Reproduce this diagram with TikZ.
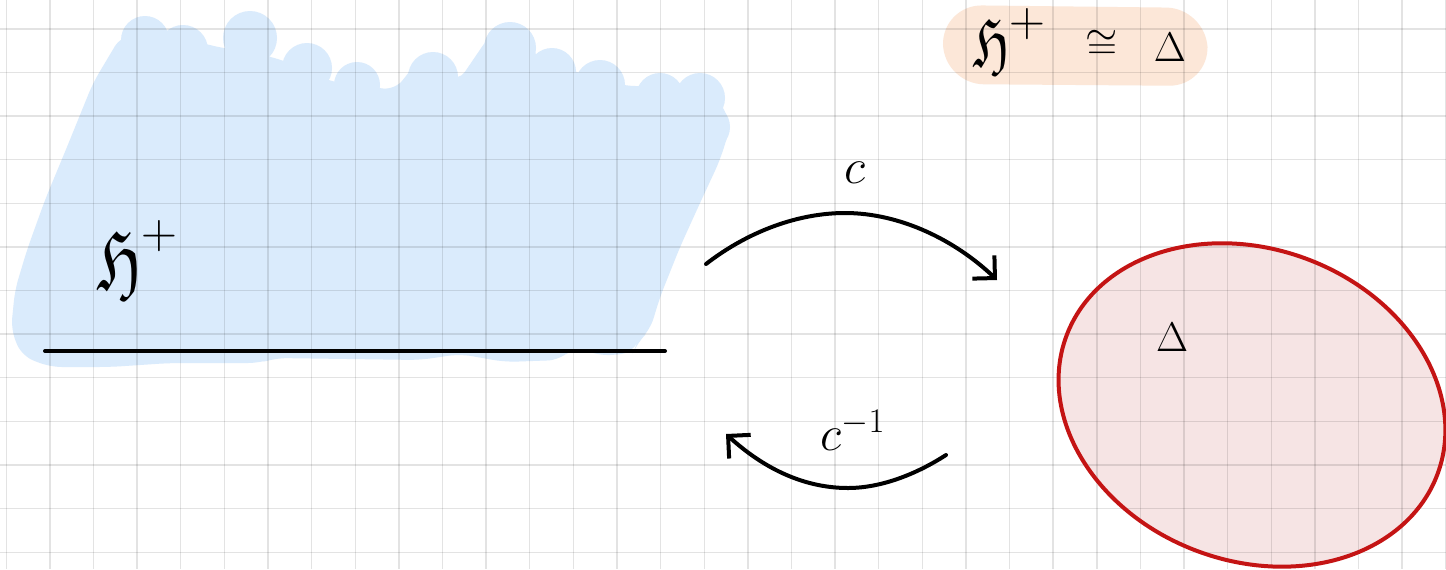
\documentclass[tikz,border=0pt]{standalone}
\usepackage{amssymb}
\usepackage{graphicx}
\usetikzlibrary{arrows.meta}
\definecolor{bluehl}{RGB}{218,235,252}
\definecolor{orangehl}{RGB}{252,231,216}
\definecolor{diskfill}{RGB}{246,228,228}
\definecolor{diskline}{RGB}{196,20,20}
\tikzset{
  gridline/.style={black,opacity=0.11,line width=0.7pt},
  ink/.style={black,line width=2pt,line cap=round,line join=round},
  inkarrow/.style={ink,-{Straight Barb[length=8pt,width=16pt,line width=2pt]}},
  lbl/.style={inner sep=0pt,outer sep=0pt},
}
\begin{document}
\begin{tikzpicture}[x=0.5pt,y=-0.5pt]
\useasboundingbox (0,0) rectangle (1446,569);
\clip (0,0) rectangle (1446,569);
\fill[white] (0,0) rectangle (1446,569);

% blue highlight (upper half-plane)
\fill[bluehl,rounded corners=6pt] (50,367) -- (22,356) -- (11,330) -- (15,290) -- (27,250) -- (45,200) -- (67,147) -- (93,83) -- (121,36) -- (167,32) -- (208,45) -- (277,58) -- (332,82) -- (395,90) -- (420,58) -- (458,82) -- (490,35) -- (537,54) -- (575,72) -- (630,87) -- (680,82) -- (722,102) -- (730,128) -- (720,160) -- (700,203) -- (680,247) -- (660,297) -- (650,330) -- (637,343) -- (633,353) -- (600,356) -- (575,346) -- (560,360) -- (505,362) -- (460,354) -- (420,360) -- (275,358) -- (260,363) -- (170,363) -- (110,367) -- cycle;
\fill[bluehl] (145,40) circle[radius=24];
\fill[bluehl] (183,50) circle[radius=25];
\fill[bluehl] (250,38) circle[radius=27];
\fill[bluehl] (307,68) circle[radius=25];
\fill[bluehl] (357,85) circle[radius=23];
\fill[bluehl] (433,77) circle[radius=25];
\fill[bluehl] (510,48) circle[radius=26];
\fill[bluehl] (552,72) circle[radius=24];
\fill[bluehl] (600,85) circle[radius=25];
\fill[bluehl] (660,97) circle[radius=24];
\fill[bluehl] (700,98) circle[radius=25];
\fill[bluehl] (706,127) circle[radius=24];

% orange highlight
\fill[orangehl,rounded corners=20pt] (942,5) -- (1206,8) -- (1209,86) -- (944,84) -- cycle;

% disk fill
\coordinate (dc) at (1252,405);
\fill[diskfill,rotate around={-20.4:(dc)}] (dc) ellipse [x radius=198, y radius=156];

% grid
\foreach \i in {0,...,33} \draw[gridline] ({6.3+43.62*\i},0) -- ({6.3+43.62*\i},569);
\foreach \j in {0,...,12} \draw[gridline] (0,{28.8+43.62*\j}) -- (1446,{28.8+43.62*\j});

% disk outline
\draw[diskline,line width=2pt,rotate around={-20.4:(dc)}] (dc) ellipse [x radius=198, y radius=156];

% real line
\coordinate (la) at (45,351);
\coordinate (lb) at (665,351);
\draw[ink] (la) -- (lb);

% arrows
\coordinate (cs) at (706,264);
\coordinate (cm) at (845,213);
\coordinate (ce) at (997,280);
\draw[inkarrow] (cs) .. controls (750,230) and (800,213) .. (cm) .. controls (900,213) and (955,240) .. (ce);
\coordinate (ds) at (946,455);
\coordinate (dm) at (848,488);
\coordinate (de) at (726,434);
\draw[inkarrow] (ds) .. controls (915,475) and (880,488) .. (dm) .. controls (800,488) and (760,465) .. (de);

% labels
\node[lbl] (hl) at (138,258) {\fontsize{44}{50}\selectfont$\scalebox{0.7}[1]{$\mathfrak{H}$}^{+}$};
\node[lbl] (c) at (855,173) {\fontsize{26}{30}\selectfont$c$};
\node[lbl] (cinv) at (853,430) {\fontsize{26}{30}\selectfont$c^{-1}$};
\node[lbl] (d) at (1172,337) {\fontsize{20}{24}\selectfont$\Delta$};
\node[lbl] (hr) at (1010,40) {\fontsize{36}{42}\selectfont$\scalebox{0.7}[1]{$\mathfrak{H}$}^{+}$};
\node[lbl] (iso) at (1102,45) {\fontsize{20}{24}\selectfont$\cong$};
\node[lbl] (dr) at (1170,47) {\fontsize{22}{26}\selectfont$\Delta$};
\end{tikzpicture}
\end{document}
